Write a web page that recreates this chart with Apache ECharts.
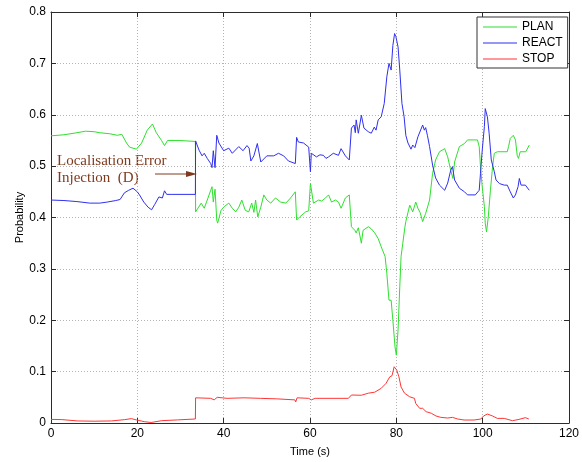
<!DOCTYPE html>
<html>
<head>
<meta charset="utf-8">
<script src="https://cdn.jsdelivr.net/npm/echarts@6/dist/echarts.min.js"></script>
<style>html,body{margin:0;padding:0;background:#fff}#c{width:582px;height:462px}</style>
</head>
<body>
<div id="c"></div>
<script>
// ---- data ----
const xTicks = [0, 20, 40, 60, 80, 100, 120];
const yTicks = [0, 0.1, 0.2, 0.3, 0.4, 0.5, 0.6, 0.7, 0.8];
const seriesNames = ['PLAN', 'REACT', 'STOP'];

const reactT = [0,3,6,9,11.3,13,15,16,17,18,19,20,20.5,21.5,22.5,23.3,24,25,25.8,26.3,26.8,28,33.45,33.5,34.3,35,35.5,36.2,37,37.3,37.6,38,38.4,38.9,40,41.2,42,43.5,44.5,45.4,45.9,46.3,47,47.8,48.6,50,51.6,52.7,53.9,55,56.6,56.8,56.9,57.3,58.5,59.7,60.1,60.3,61.5,62.3,63.1,63.7,64.3,65.4,66.6,67.2,68.2,69.1,69.6,70.2,70.5,70.7,71.2,71.9,72.5,73.5,74.2,74.9,75.3,75.8,76.5,77.2,77.8,78.3,78.8,79.2,79.6,79.9,80.4,80.8,81.3,81.8,82.2,82.7,83.4,83.8,84.3,85,85.4,86.1,86.5,86.8,87.2,87.7,88.4,89.1,90,91.2,91.9,92.6,93,93.5,94.6,95.8,96.5,98.3,99.2,99.5,99.9,100.4,100.6,101.1,101.5,102,102.7,103.1,103.9,105,105.7,106.4,107.1,107.6,108.2,108.5,108.9,109.9,110.8];
const reactV = [0.434,0.433,0.431,0.428,0.428,0.430,0.433,0.435,0.448,0.453,0.457,0.450,0.444,0.430,0.420,0.415,0.425,0.440,0.438,0.452,0.445,0.445,0.445,0.549,0.531,0.520,0.525,0.515,0.505,0.497,0.530,0.497,0.560,0.545,0.530,0.535,0.525,0.538,0.530,0.540,0.535,0.510,0.520,0.544,0.508,0.520,0.520,0.525,0.520,0.510,0.505,0.505,0.556,0.547,0.545,0.537,0.489,0.525,0.518,0.522,0.521,0.515,0.518,0.525,0.521,0.534,0.520,0.512,0.574,0.580,0.565,0.590,0.564,0.599,0.574,0.567,0.564,0.576,0.570,0.590,0.596,0.622,0.674,0.700,0.687,0.735,0.758,0.752,0.732,0.687,0.622,0.596,0.560,0.545,0.533,0.541,0.536,0.557,0.560,0.580,0.570,0.575,0.560,0.538,0.502,0.477,0.463,0.453,0.467,0.492,0.499,0.473,0.457,0.450,0.444,0.444,0.453,0.486,0.531,0.577,0.612,0.596,0.564,0.512,0.489,0.473,0.466,0.463,0.463,0.450,0.438,0.444,0.460,0.476,0.463,0.463,0.453];

const planT = [0,3,6,8,10,11.3,13.6,15.4,16.4,17.5,18.2,19.8,21,22.3,23.5,24.4,25.6,26.3,27,29.7,33.45,33.5,34.8,35.5,36.2,37,37.3,37.6,38,38.4,38.6,39.4,40.1,41.2,42,42.8,43.5,44.2,45,45.8,46.5,47,47.4,47.9,48.6,49.3,50,50.9,52,53.2,54.4,55.5,56.6,56.8,56.9,57.6,59,59.7,60.1,60.8,62,62.7,63.6,64.3,65,65.9,66.6,67.2,68.2,69.1,69.6,70.4,70.7,71.2,71.9,72.3,73.5,74.2,75,75.8,76.5,77.4,77.8,78.3,78.8,79.2,79.7,80,80.4,80.8,81.1,81.5,82,82.2,83.1,83.8,84.5,85,85.5,86.1,86.8,87.7,88.4,89.1,90,91.2,91.9,92.6,93.1,93.5,94.6,95.8,96.5,98.8,99.2,99.5,99.9,100.4,100.6,100.9,101.3,101.8,102.3,102.7,103.4,105.7,106,106.4,107.1,107.6,108,108.3,108.7,110,110.8];
const planV = [0.559,0.561,0.565,0.568,0.567,0.565,0.563,0.560,0.562,0.545,0.537,0.533,0.545,0.570,0.582,0.565,0.550,0.540,0.550,0.550,0.548,0.411,0.428,0.418,0.434,0.453,0.460,0.430,0.455,0.395,0.389,0.414,0.421,0.428,0.418,0.411,0.420,0.434,0.414,0.411,0.428,0.410,0.434,0.401,0.420,0.444,0.434,0.428,0.438,0.430,0.428,0.438,0.450,0.450,0.395,0.401,0.411,0.413,0.466,0.428,0.434,0.432,0.438,0.444,0.430,0.434,0.430,0.418,0.438,0.444,0.382,0.375,0.370,0.380,0.350,0.375,0.382,0.378,0.370,0.359,0.343,0.324,0.291,0.239,0.239,0.200,0.148,0.132,0.181,0.265,0.324,0.350,0.382,0.392,0.424,0.411,0.430,0.418,0.410,0.392,0.408,0.434,0.486,0.512,0.528,0.534,0.518,0.492,0.476,0.508,0.538,0.544,0.551,0.551,0.538,0.499,0.460,0.421,0.389,0.372,0.401,0.453,0.499,0.525,0.528,0.528,0.538,0.554,0.560,0.551,0.521,0.515,0.528,0.528,0.541];

const stopT = [0,2.5,6.2,10,14,17,18.6,19.8,21.6,23.2,25.6,29.3,33.45,33.5,37,37.8,38.5,40.8,44.7,48.5,52.3,56.5,56.7,57,57.3,59.7,60.3,61.2,68.9,69.6,71.9,73.5,75,76.5,77.6,78.5,79,79.5,79.7,80.1,80.6,81.1,81.9,83.1,84.2,84.5,85.4,86.1,86.9,88.1,89.2,90.3,91.9,93,94.2,95.7,98,99.6,100.2,101.1,102.3,103.4,105,106.9,108.4,109.9,110.7];
const stopV = [0.007,0.0066,0.004,0.0035,0.004,0.0065,0.0085,0.006,0.0026,0.001,0.0045,0.006,0.0078,0.049,0.048,0.045,0.050,0.048,0.049,0.048,0.047,0.045,0.041,0.049,0.051,0.048,0.045,0.048,0.048,0.0545,0.054,0.058,0.060,0.0675,0.077,0.090,0.092,0.1095,0.113,0.103,0.090,0.070,0.058,0.051,0.048,0.038,0.0286,0.0286,0.022,0.019,0.0136,0.011,0.0097,0.011,0.0078,0.0058,0.0058,0.0078,0.0136,0.0175,0.0136,0.009,0.009,0.0045,0.007,0.0104,0.0078];

const annotationLines = ['Localisation Error', 'Injection  (D)'];

// ---- chart ----
const zip = (a, b) => a.map((t, i) => [t, b[i]]);
const chart = echarts.init(document.getElementById('c'), null, { renderer: 'canvas' });
const axisColor = '#2b2b2b';
const gridLine = { show: true, lineStyle: { color: '#b4b4b4', type: [1, 2], width: 1 } };
const fontFam = 'Liberation Sans, Arial, sans-serif';

const baseX = {
  type: 'value', min: xTicks[0], max: xTicks[xTicks.length - 1], interval: 20,
  axisLine: { show: true, onZero: false, lineStyle: { color: axisColor, width: 1 } },
  axisTick: { show: true, inside: true, length: 5, lineStyle: { color: axisColor } }
};
const baseY = {
  type: 'value', min: yTicks[0], max: yTicks[yTicks.length - 1], interval: 0.1,
  axisLine: { show: true, onZero: false, lineStyle: { color: axisColor, width: 1 } },
  axisTick: { show: true, inside: true, length: 5, lineStyle: { color: axisColor } }
};

const colors = ['#2ee02e', '#2f2ff0', '#ff3535'];

chart.setOption({
  animation: false,
  backgroundColor: '#fff',
  grid: { left: 51, right: 10, top: 12, bottom: 39, containLabel: false },
  xAxis: [
    Object.assign({}, baseX, {
      position: 'bottom',
      name: 'Time (s)', nameLocation: 'middle', nameGap: 23, nameMoveOverlap: false,
      nameTextStyle: { color: '#000', fontSize: 11, fontFamily: fontFam },
      axisLabel: { color: '#000', fontSize: 12, fontFamily: fontFam, margin: 5 },
      splitLine: gridLine
    }),
    Object.assign({}, baseX, {
      position: 'top', axisLabel: { show: false }, splitLine: { show: false }
    })
  ],
  yAxis: [
    Object.assign({}, baseY, {
      position: 'left',
      name: 'Probability', nameLocation: 'middle', nameGap: 26, nameRotate: 90, nameMoveOverlap: false,
      nameTextStyle: { color: '#000', fontSize: 11, fontFamily: fontFam },
      axisLabel: { color: '#000', fontSize: 12, fontFamily: fontFam, margin: 5,
        formatter: v => (Math.abs(v) < 1e-9 ? '0' : v.toFixed(1)) },
      splitLine: gridLine
    }),
    Object.assign({}, baseY, {
      position: 'right', axisLabel: { show: false }, splitLine: { show: false }
    })
  ],
  legend: {
    orient: 'vertical', left: 477, top: 17,
    data: seriesNames,
    icon: 'rect', itemWidth: 34, itemHeight: 1, itemGap: 2, itemTextGap: 5,
    padding: [3, 5, 2, 6],
    borderColor: '#333', borderWidth: 1, backgroundColor: '#fff', borderRadius: 0,
    textStyle: { color: '#000', fontSize: 12, fontFamily: fontFam, lineHeight: 14 }
  },
  series: [
    { name: seriesNames[0], type: 'line', data: zip(planT, planV), color: colors[0] },
    { name: seriesNames[1], type: 'line', data: zip(reactT, reactV), color: colors[1] },
    { name: seriesNames[2], type: 'line', data: zip(stopT, stopV), color: colors[2] }
  ].map(s => Object.assign(s, {
    showSymbol: false, symbol: 'none', lineStyle: { width: 1, color: s.color },
    itemStyle: { color: s.color }, xAxisIndex: 0, yAxisIndex: 0
  })),
  graphic: [
    { type: 'text', left: 57, top: 154, style: { text: annotationLines[0], fill: '#7f3a1e', font: '15px "Liberation Serif", "Times New Roman", serif' } },
    { type: 'text', left: 57, top: 171, style: { text: annotationLines[1], fill: '#7f3a1e', font: '15px "Liberation Serif", "Times New Roman", serif' } },
    { type: 'line', shape: { x1: 155, y1: 174, x2: 188, y2: 174 }, style: { stroke: '#7f3a1e', lineWidth: 1 } },
    { type: 'polygon', shape: { points: [[197, 174], [186, 171], [186, 177]] }, style: { fill: '#7f3a1e' } }
  ]
});
</script>
</body>
</html>
